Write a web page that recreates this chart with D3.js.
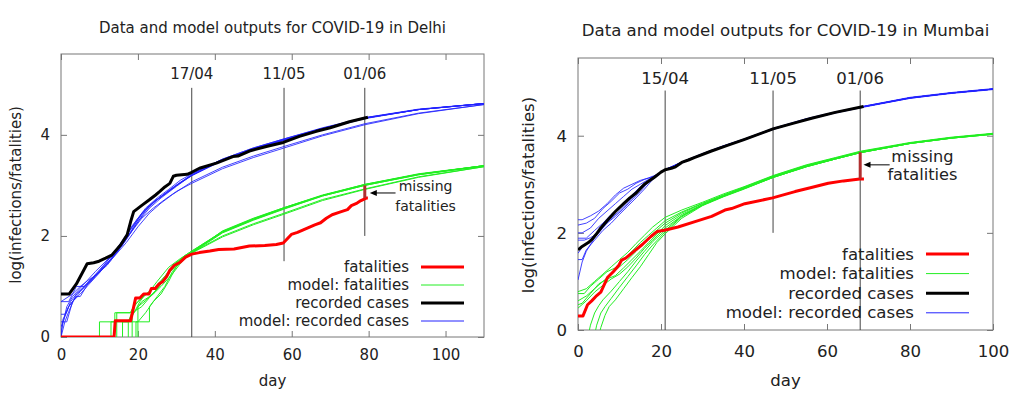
<!DOCTYPE html>
<html>
<head>
<meta charset="utf-8">
<script src="https://cdn.jsdelivr.net/npm/d3@7"></script>
<style>
body { margin: 0; background: #fff; }
svg text { font-family: "DejaVu Sans", Verdana, sans-serif; fill: #222; }
</style>
</head>
<body>
<svg id="chart" width="1024" height="394"></svg>
<script>
// ---- Delhi ----
var delhiCases = [[0,0.85],[2.1,0.85],[4,1.05],[6.8,1.45],[8.5,1.47],[9.9,1.5],[11.6,1.56],[13.2,1.62],[15.5,1.82],[17.2,2.02],[18.1,2.28],[18.9,2.48],[21.1,2.61],[22.9,2.71],[24.6,2.81],[25.7,2.88],[27,2.97],[28.3,3.04],[29.2,3.18],[30,3.2],[32.8,3.22],[34,3.26],[36,3.34],[40.4,3.44],[44.7,3.57],[46,3.58],[49,3.68],[53.4,3.77],[57.8,3.85],[62,3.97],[66.4,4.07],[70,4.14],[75,4.26],[79.8,4.35]]
var delhiDeaths = [[0,0],[13.8,0],[14.1,0.32],[18.1,0.32],[19.4,0.77],[20.5,0.77],[21.5,0.85],[22.9,0.85],[23.5,0.96],[24.5,0.96],[25.5,1.05],[26.5,1.1],[27.5,1.2],[28.3,1.32],[29.5,1.42],[31,1.48],[32.4,1.58],[34,1.64],[36,1.67],[38.7,1.7],[41,1.73],[45,1.74],[49,1.8],[53,1.81],[56,1.83],[57.8,1.86],[59.9,2.03],[61.5,2.07],[63,2.12],[64.5,2.17],[66,2.22],[67.5,2.26],[69,2.35],[70.5,2.42],[72.5,2.47],[74.5,2.52],[75.5,2.6],[77,2.65],[78,2.7],[79.4,2.75],[79.8,2.75]]
var delhiModelCases = [
  [[0,0],[0.5,0.35],[1.5,0.5],[2.5,0.7],[4,0.85],[5.5,0.95],[8,1.15],[11,1.38],[14,1.62],[17,1.93],[20,2.28],[23,2.55],[26,2.75],[30,2.98],[34,3.2],[42,3.5],[50,3.72],[58,3.9],[68,4.12],[79,4.34],[93,4.5],[110,4.62]],
  [[0,0.3],[1.5,0.3],[3,0.7],[5,0.85],[7,1.02],[10,1.27],[13,1.55],[16,1.82],[19,2.17],[22,2.5],[25,2.72],[28,2.9],[31,3.06],[34,3.2],[42,3.5],[50,3.73],[58,3.91],[68,4.13],[79,4.33],[93,4.5],[110,4.62]],
  [[0,0.7],[2,0.7],[3,0.85],[5,1.0],[7,1.12],[9,1.22],[12,1.42],[15,1.72],[18,2.07],[21,2.45],[24,2.67],[28,2.88],[31,3.05],[34,3.22],[42,3.52],[50,3.74],[58,3.92],[68,4.13],[79,4.33],[93,4.5],[110,4.62]],
  [[0,0.45],[1,0.45],[2,0.6],[4,0.8],[5,0.8],[7,1.05],[10,1.3],[12,1.5],[15,1.77],[18,2.12],[21,2.42],[24,2.66],[27,2.83],[30,3.0],[34,3.19],[42,3.49],[50,3.71],[58,3.89],[68,4.11],[79,4.32],[93,4.5],[110,4.62]],
  [[0,0],[1,0.3],[2,0.5],[4,0.85],[8,1.15],[12,1.45],[15,1.75],[18,2.05],[21,2.35],[24,2.55],[27,2.72],[30,2.88],[34,3.04],[42,3.33],[50,3.55],[58,3.74],[68,3.98],[79,4.2],[93,4.42],[110,4.6]],
  [[0,0.2],[2,0.6],[5,0.9],[9,1.2],[13,1.52],[17,1.87],[20,2.18],[23,2.45],[26,2.65],[29,2.82],[32,2.97],[34,3.07],[42,3.36],[50,3.58],[58,3.77],[68,4.0],[79,4.22],[93,4.43],[110,4.6]],
  [[0,0.7],[3,0.85],[4,1.0],[6,1.0],[8.5,1.2],[12,1.5],[15,1.8],[18.5,2.2],[22,2.55],[25,2.75],[28,2.92],[31,3.1],[34,3.23],[42,3.52],[50,3.74],[58,3.92],[68,4.14],[79,4.34],[93,4.51],[110,4.62]],
  [[0,0.1],[1.5,0.6],[3,0.8],[6,1.05],[9,1.3],[13,1.6],[16.5,1.95],[20,2.35],[23,2.6],[26.5,2.8],[30,3.0],[34,3.2],[42,3.5],[50,3.72],[58,3.9],[68,4.12],[79,4.33],[93,4.5],[110,4.62]]
]
var delhiModelDeaths = [
  [[10,0],[10,0.3],[14,0.3],[14,0.48],[18,0.48],[19,0.62],[21,0.78],[24,0.95],[27,1.2],[30,1.45],[32,1.58],[34,1.68],[42,2.08],[50,2.33],[58,2.55],[68,2.8],[79,3.01],[93,3.22],[110,3.39]],
  [[13,0],[13,0.3],[17.5,0.3],[19,0.6],[20,0.7],[23,0.9],[25,1.1],[28,1.38],[31,1.55],[34,1.7],[42,2.09],[50,2.34],[58,2.56],[68,2.8],[79,3.02],[93,3.22],[110,3.39]],
  [[17.5,0],[17.5,0.3],[19,0.48],[21,0.7],[24,0.85],[26,1.05],[28.5,1.3],[31,1.5],[34,1.66],[42,1.98],[50,2.22],[58,2.43],[68,2.7],[79,2.92],[93,3.16],[110,3.37]],
  [[18.5,0],[18.5,0.48],[21,0.6],[23,0.78],[26,1.0],[29,1.25],[31.5,1.5],[34,1.68],[42,2.07],[50,2.32],[58,2.54],[68,2.79],[79,3.0],[93,3.21],[110,3.39]],
  [[20,0],[20,0.3],[22,0.48],[24,0.7],[26,0.85],[28,1.1],[30,1.4],[33,1.6],[35,1.72],[42,2.1],[50,2.35],[58,2.56],[68,2.81],[79,3.02],[93,3.23],[110,3.39]],
  [[14.5,0],[14.5,0.48],[19,0.48],[20.5,0.7],[22,0.85],[25,1.0],[27,1.2],[29.5,1.45],[33,1.62],[34,1.67],[42,2.0],[50,2.24],[58,2.45],[68,2.72],[79,2.93],[93,3.17],[110,3.37]],
  [[16,0],[16,0.3],[20,0.3],[20,0.6],[22,0.72],[25,0.95],[27,1.15],[29,1.4],[32,1.6],[34,1.7],[42,2.08],[50,2.33],[58,2.55],[68,2.8],[79,3.01],[93,3.22],[110,3.39]],
  [[19.5,0],[19.5,0.3],[23,0.3],[23,0.6],[25,0.8],[27,1.0],[29,1.3],[31,1.48],[34,1.66],[42,2.06],[50,2.31],[58,2.53],[68,2.79],[79,3.0],[93,3.21],[110,3.38]]
]
var delhiEventDays = [34, 58, 79]
var delhiEventLabels = ['17/04', '11/05', '01/06']
var delhiEventFloor = [0, 1.5, 2]
var delhiGap = [79, 2.75, 3.0]

// ---- Mumbai ----
var mumbaiCases = [[0,1.65],[1,1.72],[2.5,1.8],[3.3,1.86],[4.3,1.96],[5.5,2.1],[7,2.25],[9,2.44],[11,2.6],[12.5,2.72],[14,2.82],[16,3.0],[18.5,3.15],[20,3.25],[21,3.3],[22.5,3.33],[23.5,3.36],[25,3.45],[26.6,3.5],[28,3.55],[32,3.68],[36,3.8],[40,3.92],[47,4.14],[52,4.26],[56.3,4.36],[62,4.48],[68.8,4.6]]
var mumbaiDeaths = [[0,0.29],[1.2,0.29],[2.3,0.52],[3.3,0.6],[4.3,0.69],[5.5,0.78],[7.1,1.08],[8.5,1.2],[9.9,1.34],[10.5,1.44],[11.5,1.48],[13.9,1.65],[15.5,1.76],[17.5,1.92],[19.1,2.03],[21.1,2.06],[24.1,2.12],[28.2,2.23],[32.2,2.34],[35.4,2.47],[37,2.5],[40.2,2.6],[46.9,2.72],[52.3,2.85],[56,2.93],[60.3,3.02],[64,3.07],[67.9,3.11],[68.9,3.11]]
var mumbaiModelCases = [
  [[0,2.27],[1,2.27],[3,2.35],[5,2.45],[7,2.6],[9,2.78],[11,2.92],[13,3.0],[15,3.08],[17,3.13],[19,3.2],[21,3.3],[25,3.46],[30,3.63],[35,3.79],[40,3.93],[47,4.15],[55,4.34],[62,4.48],[69,4.61],[80,4.78],[90,4.88],[100,4.96]],
  [[0,2.16],[2,2.2],[4,2.3],[6,2.5],[8,2.65],[10,2.82],[12,2.9],[14,3.02],[16,3.1],[18.5,3.17],[21,3.3],[25,3.45],[30,3.62],[35,3.78],[40,3.92],[47,4.14],[55,4.34],[62,4.48],[69,4.6],[80,4.78],[90,4.88],[100,4.96]],
  [[0,2.0],[1,2.0],[3,2.1],[5,2.3],[7,2.45],[9,2.6],[11,2.75],[13,2.9],[15,3.0],[17,3.1],[19,3.2],[21,3.3],[25,3.44],[30,3.61],[35,3.77],[40,3.92],[47,4.13],[55,4.33],[62,4.47],[69,4.6],[80,4.77],[90,4.88],[100,4.96]],
  [[0,1.89],[2,1.89],[4,2.05],[6,2.2],[8,2.38],[10,2.52],[12,2.68],[14,2.84],[16,3.0],[18,3.14],[21,3.3],[25,3.45],[30,3.62],[35,3.78],[40,3.92],[47,4.14],[55,4.34],[62,4.48],[69,4.6],[80,4.78],[90,4.88],[100,4.96]],
  [[0,1.85],[1.5,1.85],[3,1.9],[5,2.0],[7,2.2],[9,2.34],[11,2.5],[13,2.68],[15,2.85],[17,3.05],[19,3.2],[21,3.3],[25,3.46],[30,3.63],[35,3.79],[40,3.93],[47,4.15],[55,4.35],[62,4.49],[69,4.61],[80,4.79],[90,4.89],[100,4.97]],
  [[0,1.58],[1,1.7],[3,1.85],[5,2.05],[7,2.25],[9,2.42],[11,2.6],[13,2.78],[15,2.95],[17,3.08],[19,3.2],[21,3.3],[25,3.45],[30,3.62],[35,3.78],[40,3.92],[47,4.14],[55,4.34],[62,4.48],[69,4.6],[80,4.78],[90,4.88],[100,4.96]],
  [[0,1.45],[1,1.45],[2,1.65],[4,1.85],[6,2.05],[8,2.2],[10,2.38],[12,2.55],[14,2.72],[16,2.9],[18,3.1],[21,3.3],[25,3.44],[30,3.61],[35,3.77],[40,3.91],[47,4.13],[55,4.33],[62,4.47],[69,4.59],[80,4.77],[90,4.87],[100,4.95]],
  [[0,1.03],[1,1.4],[2,1.62],[4,1.9],[6,2.12],[8,2.3],[10,2.45],[12,2.62],[14,2.8],[16,2.98],[18,3.13],[21,3.3],[25,3.45],[30,3.62],[35,3.78],[40,3.92],[47,4.14],[55,4.34],[62,4.48],[69,4.6],[80,4.78],[90,4.88],[100,4.96]]
]
var mumbaiModelDeaths = [
  [[0,0.79],[2,0.85],[4,1.0],[6,1.15],[8,1.3],[10,1.45],[12,1.6],[14,1.78],[16,1.95],[18,2.12],[21,2.32],[25,2.47],[30,2.63],[35,2.8],[40,2.95],[47,3.18],[55,3.4],[62,3.55],[68,3.68],[80,3.86],[90,3.97],[100,4.05]],
  [[0,0.75],[1.5,0.75],[3,0.9],[5,1.05],[7,1.2],[9,1.28],[11,1.45],[13,1.62],[15,1.8],[17,1.95],[19,2.1],[21,2.25],[25,2.43],[30,2.61],[35,2.78],[40,2.94],[47,3.17],[55,3.39],[62,3.54],[68,3.67],[80,3.85],[90,3.96],[100,4.04]],
  [[0,0.6],[2,0.7],[4,0.85],[6,1.0],[8,1.15],[10,1.3],[12,1.45],[14,1.62],[16,1.8],[18,1.98],[21,2.2],[25,2.41],[30,2.6],[35,2.77],[40,2.93],[47,3.16],[55,3.38],[62,3.53],[68,3.66],[80,3.85],[90,3.96],[100,4.04]],
  [[0,0.52],[1,0.55],[3,0.75],[5,0.95],[7,1.05],[9,1.12],[11,1.28],[13,1.45],[15,1.62],[17,1.8],[19,1.97],[21,2.15],[25,2.38],[30,2.58],[35,2.75],[40,2.91],[47,3.14],[55,3.36],[62,3.52],[68,3.65],[80,3.84],[90,3.95],[100,4.04]],
  [[0,0.45],[2,0.6],[4,0.78],[6,0.92],[8,1.05],[10,1.15],[12,1.3],[14,1.48],[16,1.68],[18,1.85],[21,2.1],[25,2.35],[30,2.57],[35,2.75],[40,2.92],[47,3.15],[55,3.37],[62,3.53],[68,3.66],[80,3.85],[90,3.96],[100,4.04]],
  [[2,-0.3],[3,0.1],[4,0.35],[5,0.5],[6,0.62],[8,0.8],[10,1.0],[12,1.2],[14,1.42],[16,1.62],[18,1.82],[21,2.05],[25,2.35],[30,2.58],[35,2.76],[40,2.92],[47,3.15],[55,3.37],[62,3.52],[68,3.65],[80,3.84],[90,3.95],[100,4.03]],
  [[3.5,-0.3],[4.5,0.1],[5.5,0.35],[6.5,0.48],[8,0.65],[10,0.88],[12,1.1],[14,1.32],[16,1.55],[18,1.75],[21,2.02],[25,2.33],[30,2.57],[35,2.75],[40,2.91],[47,3.14],[55,3.36],[62,3.52],[68,3.65],[80,3.84],[90,3.95],[100,4.03]],
  [[4.5,-0.3],[5.5,0.05],[6.5,0.3],[7.5,0.48],[9,0.62],[11,0.85],[13,1.08],[15,1.3],[17,1.55],[19,1.8],[21,1.98],[25,2.3],[30,2.56],[35,2.74],[40,2.9],[47,3.14],[55,3.36],[62,3.52],[68,3.65],[80,3.84],[90,3.95],[100,4.03]]
]
var mumbaiEventDays = [21, 47, 68]
var mumbaiEventLabels = ['15/04', '11/05', '01/06']
var mumbaiEventFloor = [0, 2, 0]
var mumbaiGap = [68, 3.11, 3.66]

var xTicks = [0, 20, 40, 60, 80, 100]
var yTicks = [0, 2, 4]
var legendLabels = ['fatalities', 'model: fatalities', 'recorded cases', 'model: recorded cases']

var RED = '#ff0000', GREEN = '#22ee22', BLACK = '#000000', BLUE = '#2222ff'

var svg = d3.select('#chart')

function drawPanel(p) {
    var x = d3.scaleLinear().domain([0, p.xMax]).range([p.left, p.right])
    var y = d3.scaleLinear().domain([0, 5.6]).range([p.bottom, p.top])
    var g = svg.append('g')
    var clipId = 'clip_' + p.name

    g.append('clipPath').attr('id', clipId).append('rect')
        .attr('x', p.left).attr('y', p.top)
        .attr('width', p.right - p.left).attr('height', p.bottom - p.top)

    // title + axis titles
    g.append('text')
        .attr('x', (p.left + p.right) / 2).attr('y', p.titleY)
        .attr('text-anchor', 'middle').style('font-size', p.fs + 'px')
        .text(p.title)
    g.append('text')
        .attr('x', (p.left + p.right) / 2).attr('y', 386)
        .attr('text-anchor', 'middle').style('font-size', p.fs + 'px')
        .text('day')
    g.append('text')
        .attr('transform', 'translate(' + p.ylabX + ',' + 195 + ') rotate(-90)')
        .attr('text-anchor', 'middle').attr('dominant-baseline', 'central')
        .style('font-size', p.fs + 'px')
        .text('log(infections/fatalities)')

    // ticks on all four sides, pointing inwards
    var fmt = d3.format('d')
    var axes = [
        [d3.axisBottom(x).tickValues(xTicks).tickFormat(fmt).tickSize(-6).tickPadding(p.xPad), 'translate(0,' + p.bottom + ')'],
        [d3.axisTop(x).tickValues(xTicks).tickSize(-6).tickFormat(''), 'translate(0,' + p.top + ')'],
        [d3.axisLeft(y).tickValues(yTicks).tickFormat(fmt).tickSize(-6).tickPadding(11), 'translate(' + p.left + ',0)'],
        [d3.axisRight(y).tickValues(yTicks).tickSize(-6).tickFormat(''), 'translate(' + p.right + ',0)']
    ]
    axes.forEach(function(a) {
        var ax = g.append('g').attr('transform', a[1]).call(a[0])
        ax.select('.domain').remove()
        ax.selectAll('line').attr('stroke', '#777')
        ax.selectAll('text').style('font-size', p.fs + 'px').attr('fill', '#222').style('font-family', '"DejaVu Sans", Verdana, sans-serif')
    })
    g.append('rect')
        .attr('x', p.left).attr('y', p.top)
        .attr('width', p.right - p.left).attr('height', p.bottom - p.top)
        .attr('fill', 'none').attr('stroke', '#777').attr('stroke-width', 1)

    // event markers
    p.eventDays.forEach(function(d, i) {
        g.append('line')
            .attr('x1', x(d)).attr('x2', x(d))
            .attr('y1', y(4.93)).attr('y2', y(p.eventFloor[i]))
            .attr('stroke', '#444').attr('stroke-width', 1)
        g.append('text')
            .attr('x', x(d)).attr('y', p.eventY)
            .attr('text-anchor', 'middle').attr('dominant-baseline', 'central')
            .style('font-size', p.fs + 'px')
            .text(p.eventLabels[i])
    })

    var line = d3.line().x(function(d) { return x(d[0]) }).y(function(d) { return y(d[1]) })
    var plot = g.append('g').attr('clip-path', 'url(#' + clipId + ')')

    p.modelDeaths.forEach(function(run) {
        plot.append('path').datum(run).attr('d', line)
            .attr('fill', 'none').attr('stroke', GREEN).attr('stroke-width', 1)
    })
    p.modelCases.forEach(function(run) {
        plot.append('path').datum(run).attr('d', line)
            .attr('fill', 'none').attr('stroke', BLUE).attr('stroke-width', 1).attr('stroke-opacity', 0.85)
    })
    plot.append('path').datum(p.deaths).attr('d', line)
        .attr('fill', 'none').attr('stroke', RED).attr('stroke-width', 3).attr('stroke-linejoin', 'round')
    plot.append('path').datum(p.cases).attr('d', line)
        .attr('fill', 'none').attr('stroke', BLACK).attr('stroke-width', 3).attr('stroke-linejoin', 'round')

    // missing fatalities
    plot.append('line')
        .attr('x1', x(p.gap[0])).attr('x2', x(p.gap[0]))
        .attr('y1', y(p.gap[1])).attr('y2', y(p.gap[2]))
        .attr('stroke', '#b03030').attr('stroke-width', 3)
    var a = p.arrow
    g.append('line')
        .attr('x1', x(a[0])).attr('x2', x(a[1]) + 6)
        .attr('y1', y(a[2])).attr('y2', y(a[2]))
        .attr('stroke', '#000').attr('stroke-width', 1)
    g.append('path')
        .attr('d', 'M' + x(a[1]) + ',' + y(a[2]) + 'l7,-3l0,6z')
        .attr('fill', '#000')
    g.append('text')
        .attr('x', x(p.noteX)).attr('y', y(p.noteY[0]))
        .attr('text-anchor', 'middle').attr('dominant-baseline', 'central')
        .style('font-size', p.noteFs + 'px').text('missing')
    g.append('text')
        .attr('x', x(p.noteX)).attr('y', y(p.noteY[1]))
        .attr('text-anchor', 'middle').attr('dominant-baseline', 'central')
        .style('font-size', p.noteFs + 'px').text('fatalities')

    // legend
    var legColors = [RED, GREEN, BLACK, BLUE]
    var legWidths = [3, 1, 3, 1]
    legendLabels.forEach(function(lab, i) {
        var ly = p.legY + i * p.legStep
        g.append('text')
            .attr('x', p.legX).attr('y', ly)
            .attr('text-anchor', 'end').attr('dominant-baseline', 'central')
            .style('font-size', p.fs + 'px').text(lab)
        g.append('line')
            .attr('x1', p.legX + 12).attr('x2', p.legX + 55)
            .attr('y1', ly).attr('y2', ly)
            .attr('stroke', legColors[i]).attr('stroke-width', legWidths[i])
    })
}

drawPanel({
    name: 'delhi', title: 'Data and model outputs for COVID-19 in Delhi',
    left: 61, right: 484, top: 54, bottom: 337, xMax: 110,
    fs: 15, noteFs: 14, titleY: 33, ylabX: 16, xPad: 12, eventY: 74,
    cases: delhiCases, deaths: delhiDeaths, modelCases: delhiModelCases, modelDeaths: delhiModelDeaths,
    eventDays: delhiEventDays, eventLabels: delhiEventLabels, eventFloor: delhiEventFloor,
    gap: delhiGap, arrow: [87, 80.3, 2.85], noteX: 94.8, noteY: [2.99, 2.59],
    legX: 409, legY: 267, legStep: 18
})
drawPanel({
    name: 'mumbai', title: 'Data and model outputs for COVID-19 in Mumbai',
    left: 578, right: 993, top: 58, bottom: 330, xMax: 100,
    fs: 16.6, noteFs: 16.2, titleY: 36, ylabX: 528, xPad: 15, eventY: 78,
    cases: mumbaiCases, deaths: mumbaiDeaths, modelCases: mumbaiModelCases, modelDeaths: mumbaiModelDeaths,
    eventDays: mumbaiEventDays, eventLabels: mumbaiEventLabels, eventFloor: mumbaiEventFloor,
    gap: mumbaiGap, arrow: [75.1, 68.8, 3.4], noteX: 83, noteY: [3.57, 3.2],
    legX: 914, legY: 254, legStep: 19.6
})
</script>
</body>
</html>
